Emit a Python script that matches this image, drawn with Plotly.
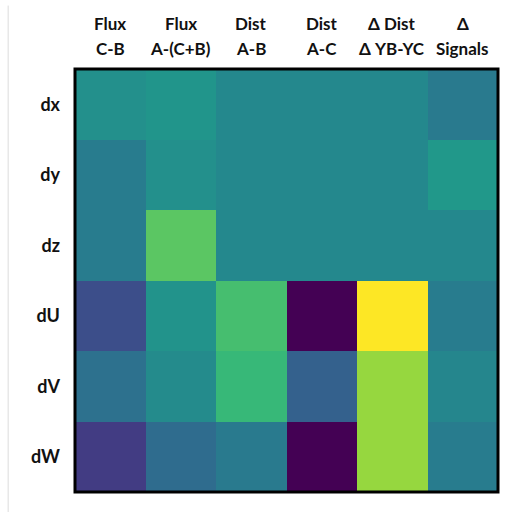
import plotly.graph_objects as go

# Column headers (two lines each) and row labels
header_top = ["Flux", "Flux", "Dist", "Dist", "Δ Dist", "Δ"]
header_bottom = ["C-B", "A-(C+B)", "A-B", "A-C", "Δ YB-YC", "Signals"]
rows = ["dx", "dy", "dz", "dU", "dV", "dW"]
columns = [f"{a} {b}" for a, b in zip(header_top, header_bottom)]

# Normalised sensitivity per row (0 = lowest, 1 = highest)
row_dx = [0.50, 0.52, 0.47, 0.47, 0.47, 0.41]
row_dy = [0.42, 0.50, 0.47, 0.47, 0.47, 0.53]
row_dz = [0.42, 0.74, 0.47, 0.47, 0.47, 0.47]
row_dU = [0.24, 0.51, 0.70, 0.00, 1.00, 0.42]
row_dV = [0.37, 0.48, 0.67, 0.31, 0.84, 0.46]
row_dW = [0.18, 0.35, 0.41, 0.00, 0.84, 0.42]

z = [row_dx, row_dy, row_dz, row_dU, row_dV, row_dW]

fig = go.Figure(go.Heatmap(
    z=z, x=columns, y=rows,
    colorscale="Viridis", zmin=0, zmax=1,
    showscale=False, xgap=0, ygap=0,
))

label_font = dict(family="Lato", size=17, color="#111111", weight="bold")

fig.update_xaxes(showgrid=False, zeroline=False, ticks="", showticklabels=False)
fig.update_yaxes(
    autorange="reversed", showgrid=False, zeroline=False, ticks="",
    tickfont=dict(family="Lato", size=18, color="#111111", weight="bold"),
    ticklabelstandoff=14,
)

# Two-line column headers above the matrix
for col, top, bottom in zip(columns, header_top, header_bottom):
    fig.add_annotation(x=col, xref="x", y=1, yref="paper", text=top,
                       showarrow=False, yanchor="middle", yshift=46,
                       font=label_font)
    fig.add_annotation(x=col, xref="x", y=1, yref="paper", text=bottom,
                       showarrow=False, yanchor="middle", yshift=21,
                       font=label_font)

# Black frame around the matrix
fig.add_shape(type="rect", xref="paper", yref="paper", x0=0, x1=1, y0=0, y1=1,
              line=dict(color="black", width=3), fillcolor="rgba(0,0,0,0)")
# Thin light edge line at the left of the canvas
fig.add_shape(type="line", xref="paper", yref="paper",
              x0=-0.158, x1=-0.158, y0=-0.05, y1=1.15,
              line=dict(color="#dddddd", width=1))

fig.update_layout(
    width=514, height=512,
    margin=dict(l=75, r=16, t=69, b=20),
    paper_bgcolor="white", plot_bgcolor="white",
)

fig.write_html("out.html")
